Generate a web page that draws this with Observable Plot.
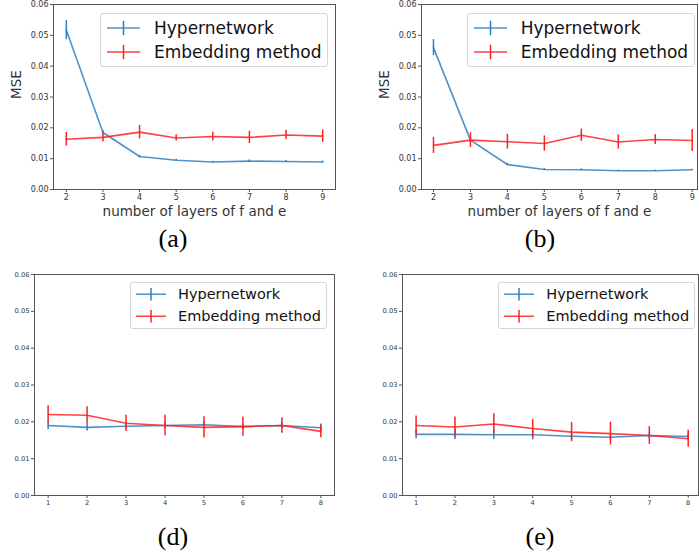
<!DOCTYPE html>
<html><head><meta charset="utf-8">
<script src="https://cdn.jsdelivr.net/npm/d3@7"></script>
<script src="https://cdn.jsdelivr.net/npm/@observablehq/plot@0.6"></script>
<style>
html,body{margin:0;padding:0;background:#fff;overflow:hidden}
#root{position:relative;width:699px;height:552px;overflow:hidden;font-family:"DejaVu Sans",sans-serif}
.panel{position:absolute}
.cap{position:absolute;font-family:"Liberation Serif","Times New Roman",serif;font-size:26px;transform:translate(-50%,-50%);color:#000;white-space:nowrap}
.legend{position:absolute;background:rgba(255,255,255,0.85);border:1px solid #d6d6d6;border-radius:3px;box-sizing:border-box;color:#111}
.legend .row{position:absolute;left:0;display:flex;align-items:center;white-space:nowrap;transform:translateY(-50%)}
</style></head>
<body><div id="root"></div>
<script>
const seriesNames = ["Hypernetwork", "Embedding method"];
const seriesColors = ["#2f7fc0", "#ff2020"];
const layersAB = [2, 3, 4, 5, 6, 7, 8, 9];
const layersDE = [1, 2, 3, 4, 5, 6, 7, 8];
const yTicks = [0, 0.01, 0.02, 0.03, 0.04, 0.05, 0.06];
const xLabelAB = "number of layers of f and e";
const yLabelAB = "MSE";
const captions = ["(a)", "(b)", "(d)", "(e)"];

const hyperA    = [0.0517, 0.0185, 0.0107, 0.0095, 0.0089, 0.0092, 0.0091, 0.0089];
const hyperAErr = [0.0031, 0.0006, 0.0004, 0.0003, 0.0003, 0.0004, 0.0003, 0.0003];
const embedA    = [0.0163, 0.0169, 0.0186, 0.0167, 0.0172, 0.0169, 0.0177, 0.0173];
const embedAErr = [0.0022, 0.0015, 0.0022, 0.0010, 0.0014, 0.0020, 0.0015, 0.0020];

const hyperB    = [0.0460, 0.0160, 0.0081, 0.0065, 0.0064, 0.0061, 0.0061, 0.0064];
const hyperBErr = [0.0026, 0.0008, 0.0004, 0.0003, 0.0003, 0.0002, 0.0002, 0.0002];
const embedB    = [0.0143, 0.0160, 0.0155, 0.0149, 0.0176, 0.0154, 0.0162, 0.0159];
const embedBErr = [0.0026, 0.0024, 0.0024, 0.0025, 0.0020, 0.0023, 0.0016, 0.0036];

const hyperD    = [0.0190, 0.0185, 0.0188, 0.0190, 0.0192, 0.0187, 0.0190, 0.0184];
const hyperDErr = [0.0011, 0.0010, 0.0007, 0.0008, 0.0008, 0.0007, 0.0008, 0.0010];
const embedD    = [0.0220, 0.0218, 0.0196, 0.0190, 0.0185, 0.0187, 0.0190, 0.0174];
const embedDErr = [0.0024, 0.0023, 0.0022, 0.0028, 0.0029, 0.0026, 0.0021, 0.0017];

const hyperE    = [0.0166, 0.0166, 0.0165, 0.0165, 0.0161, 0.0158, 0.0163, 0.0160];
const hyperEErr = [0.0012, 0.0014, 0.0013, 0.0014, 0.0009, 0.0008, 0.0007, 0.0009];
const embedE    = [0.0190, 0.0186, 0.0194, 0.0182, 0.0172, 0.0168, 0.0163, 0.0154];
const embedEErr = [0.0026, 0.0027, 0.0028, 0.0024, 0.0026, 0.0031, 0.0024, 0.0023];

const root = document.getElementById("root");

function panel(cfg) {
  const rows = [];
  [[cfg.hyper, cfg.hyperErr], [cfg.embed, cfg.embedErr]].forEach(([v, e], s) =>
    cfg.xs.forEach((x, i) => rows.push({series: seriesNames[s], x, y: v[i], err: e[i]})));
  const marks = [Plot.frame({stroke: "#555", strokeWidth: 1})];
  seriesNames.forEach((name, s) => {
    const d = rows.filter(r => r.series === name);
    marks.push(Plot.line(d, {x: "x", y: "y", stroke: seriesColors[s], strokeWidth: 1.6, strokeOpacity: 0.85}));
    marks.push(Plot.ruleX(d, {x: "x", y1: r => r.y - r.err, y2: r => r.y + r.err, stroke: seriesColors[s], strokeWidth: 1.5}));
  });
  marks.push(Plot.axisY({ticks: yTicks, tickFormat: d3.format(".2f"), tickSize: 3, tickPadding: 2, fontSize: cfg.tickFont, label: null, stroke: "#555"}));
  marks.push(Plot.axisX({ticks: cfg.xs, tickFormat: d3.format("d"), tickSize: 3, tickPadding: 2, fontSize: cfg.tickFont, label: null, stroke: "#555"}));
  if (cfg.labels) {
    marks.push(Plot.text([xLabelAB], {text: d => d, frameAnchor: "bottom", dy: 26, fontSize: 13.5, fill: "#333"}));
    marks.push(Plot.text([yLabelAB], {text: d => d, frameAnchor: "left", dx: -37, dy: 2, rotate: -90, fontSize: 13.5, fill: "#333"}));
  }
  const svg = Plot.plot({
    width: cfg.width, height: cfg.height,
    marginLeft: cfg.mL, marginTop: cfg.mT, marginRight: cfg.mR, marginBottom: cfg.mB,
    x: {domain: cfg.xDomain},
    y: {domain: [0, 0.06]},
    style: {fontFamily: "DejaVu Sans, sans-serif", color: "#333", background: "transparent", overflow: "visible"},
    marks
  });
  svg.classList.add("panel");
  svg.style.left = cfg.left + "px";
  svg.style.top = cfg.top + "px";
  root.appendChild(svg);
}

function legend(cfg) {
  const box = document.createElement("div");
  box.className = "legend";
  Object.assign(box.style, {left: cfg.left + "px", top: cfg.top + "px", width: cfg.w + "px", height: cfg.h + "px"});
  seriesNames.forEach((name, s) => {
    const row = document.createElement("div");
    row.className = "row";
    row.style.top = cfg.rowY[s] + "px";
    row.style.left = cfg.sx + "px";
    const L = cfg.sl, H = cfg.th;
    row.innerHTML = `<svg width="${L}" height="${H}" style="display:block"><line x1="0" x2="${L}" y1="${H/2}" y2="${H/2}" stroke="${seriesColors[s]}" stroke-width="1.6" stroke-opacity="0.85"/><line x1="${L/2}" x2="${L/2}" y1="0" y2="${H}" stroke="${seriesColors[s]}" stroke-width="1.5"/></svg><span style="font-size:${cfg.fs}px;margin-left:${cfg.gap}px;line-height:1">${name}</span>`;
    box.appendChild(row);
  });
  root.appendChild(box);
}

function caption(text, x, y) {
  const c = document.createElement("div");
  c.className = "cap";
  c.textContent = text;
  c.style.left = x + "px";
  c.style.top = y + "px";
  root.appendChild(c);
}

panel({xs: layersAB, hyper: hyperA, hyperErr: hyperAErr, embed: embedA, embedErr: embedAErr,
  xDomain: [1.65, 9.35], width: 345, height: 222, mL: 53, mT: 4, mR: 10, mB: 33, tickFont: 8, labels: true, left: 0, top: 0});
panel({xs: layersAB, hyper: hyperB, hyperErr: hyperBErr, embed: embedB, embedErr: embedBErr,
  xDomain: [1.676, 9.143], width: 339, height: 222, mL: 53, mT: 4, mR: 10, mB: 33, tickFont: 8, labels: true, left: 368, top: 0});
panel({xs: layersDE, hyper: hyperD, hyperErr: hyperDErr, embed: embedD, embedErr: embedDErr,
  xDomain: [0.65, 8.35], width: 345, height: 250, mL: 34, mT: 14, mR: 11, mB: 15, tickFont: 6.7, labels: false, left: 0, top: 260});
panel({xs: layersDE, hyper: hyperE, hyperErr: hyperEErr, embed: embedE, embedErr: embedEErr,
  xDomain: [0.65, 8.265], width: 341, height: 250, mL: 34, mT: 14, mR: 11, mB: 15, tickFont: 6.7, labels: false, left: 368, top: 260});

legend({left: 100, top: 12.7, w: 228, h: 54, rowY: [14, 38.3], sx: 6, sl: 33, th: 15, fs: 17, gap: 14});
legend({left: 466.7, top: 12.7, w: 228.3, h: 54, rowY: [14, 38.3], sx: 6, sl: 33, th: 15, fs: 17, gap: 14});
legend({left: 130, top: 281.7, w: 196.7, h: 47.6, rowY: [11.6, 33.3], sx: 5, sl: 30, th: 13, fs: 14.5, gap: 12});
legend({left: 498.3, top: 281.7, w: 196.7, h: 47.6, rowY: [11.6, 33.3], sx: 5, sl: 30, th: 13, fs: 14.5, gap: 12});

caption(captions[0], 173, 239);
caption(captions[1], 540, 239);
caption(captions[2], 173, 537);
caption(captions[3], 540, 537);
</script>
</body></html>
